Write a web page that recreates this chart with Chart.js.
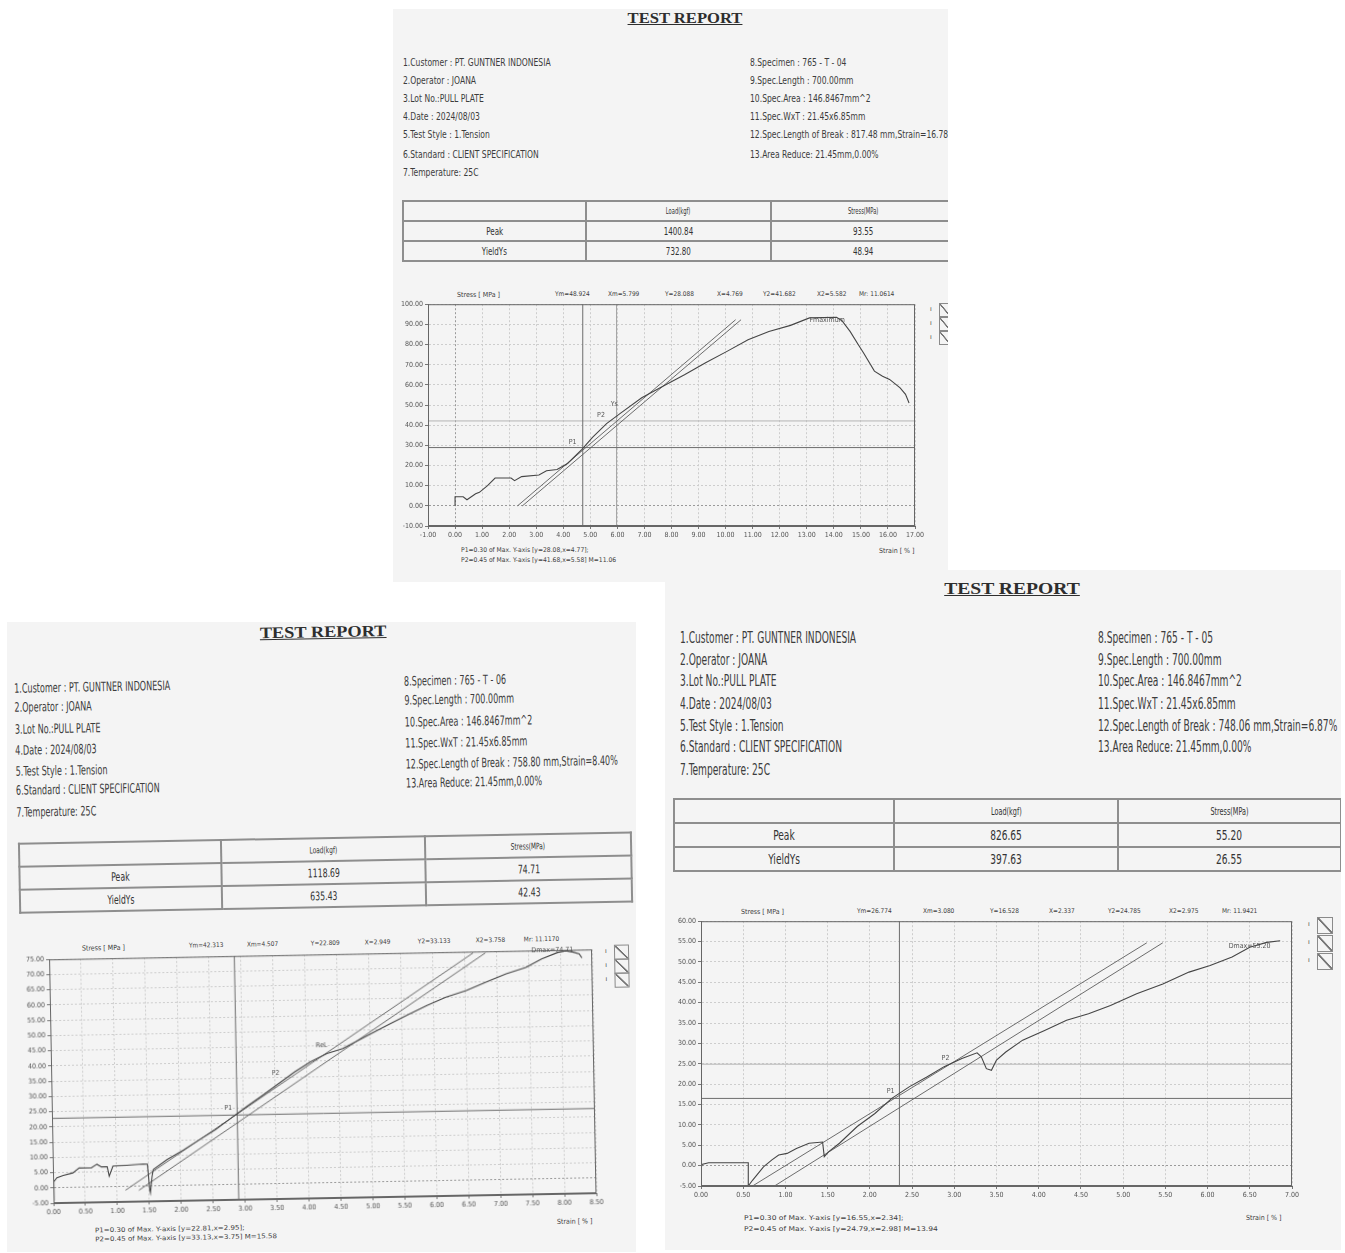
<!DOCTYPE html>
<html>
<head>
<meta charset="utf-8">
<title>Test Report</title>
<script src="https://cdn.jsdelivr.net/npm/chart.js@4.4.1/dist/chart.umd.min.js"></script>
<style>
  html,body{margin:0;padding:0;background:#fff}
  body{position:relative;width:1345px;height:1253px;overflow:hidden;
       font-family:'Liberation Sans Narrow','DejaVu Sans Condensed','Liberation Sans',sans-serif;color:#3c3c3c}
  .paper{position:absolute;background:#f4f4f4;overflow:hidden}
  .sheet{position:absolute}
  .t{position:absolute;white-space:nowrap;line-height:1;transform-origin:0 50%}
  .title{font-family:'Liberation Serif','DejaVu Serif',serif;font-weight:bold;text-decoration:underline;color:#2e2e2e;transform-origin:50% 50%}
  table.res{position:absolute;border-collapse:collapse;table-layout:fixed;border:2px solid #8e8e8e}
  table.res td{border:2px solid #8e8e8e;text-align:center;padding:0;color:#333;overflow:hidden;white-space:nowrap}
  table.res td span{display:inline-block;transform:scaleX(.72)}
  .box{position:absolute;border:1px solid #8a8a8a;background:linear-gradient(to top right,transparent 44%,#777 47%,#777 53%,transparent 56%)}
  canvas{position:absolute}
</style>
</head>
<body>
<div id="p1" class="paper"></div>
<div id="p2" class="paper"></div>
<div id="p3" class="paper"></div>
<script>
// ---------- report texts ----------
var infoLeft = ['1.Customer : PT. GUNTNER INDONESIA', '2.Operator : JOANA', '3.Lot No.:PULL PLATE',
  '4.Date : 2024/08/03', '5.Test Style : 1.Tension', '6.Standard : CLIENT SPECIFICATION', '7.Temperature: 25C'];
var specimens = ['765 - T - 04', '765 - T - 06', '765 - T - 05'];
var breakInfo = ['817.48 mm,Strain=16.78%', '758.80 mm,Strain=8.40%', '748.06 mm,Strain=6.87%'];
var tableHead = ['', 'Load(kgf)', 'Stress(MPa)'];
var rowNames = ['Peak', 'YieldYs'];
var peakLoad = ['1400.84', '1118.69', '826.65'];
var peakStress = ['93.55', '74.71', '55.20'];
var yieldLoad = ['732.80', '635.43', '397.63'];
var yieldStress = ['48.94', '42.43', '26.55'];
var headVals = [
  ['Ym=48.924', 'Xm=5.799', 'Y=28.088', 'X=4.769', 'Y2=41.682', 'X2=5.582', 'Mr: 11.0614'],
  ['Ym=42.313', 'Xm=4.507', 'Y=22.809', 'X=2.949', 'Y2=33.133', 'X2=3.758', 'Mr: 11.1170'],
  ['Ym=26.774', 'Xm=3.080', 'Y=16.528', 'X=2.337', 'Y2=24.785', 'X2=2.975', 'Mr: 11.9421']];
var footP1 = ['P1=0.30 of Max. Y-axis [y=28.08,x=4.77];', 'P1=0.30 of Max. Y-axis [y=22.81,x=2.95];',
  'P1=0.30 of Max. Y-axis [y=16.55,x=2.34];'];
var footP2 = ['P2=0.45 of Max. Y-axis [y=41.68,x=5.58] M=11.06', 'P2=0.45 of Max. Y-axis [y=33.13,x=3.75] M=15.58',
  'P2=0.45 of Max. Y-axis [y=24.79,x=2.98] M=13.94'];

// ---------- curves: strain [%] / stress [MPa] ----------
var c1Strain = [0, 0, 0.3, 0.44, 0.76, 0.9, 1.2, 1.48, 2.07, 2.2, 2.46, 3.1, 3.38, 3.77, 4.16, 4.69, 5.08, 5.6, 6.12,
  6.9, 7.7, 8.48, 9.26, 10.05, 10.83, 11.6, 12.4, 13.1, 14.1, 14.3, 14.6, 14.9, 15.1, 15.5, 15.8, 16.06, 16.45, 16.65, 16.78];
var c1Stress = [0, 4.5, 4.5, 3, 6, 6.7, 10, 13.8, 13.8, 12.5, 14.5, 15.3, 17.4, 18, 21, 28, 34, 40.8, 46,
  53.6, 59.4, 65, 71, 76.6, 82.4, 86.5, 89.5, 93.2, 93.5, 91.8, 86.5, 80, 75.8, 66.8, 64.3, 62.7, 58.5, 55.3, 51];
var c2Strain = [0, 0.01, 0.06, 0.16, 0.31, 0.41, 0.6, 0.69, 0.76, 0.85, 0.88, 0.94, 1.16, 1.41, 1.48, 1.51, 1.52, 1.55,
  1.57, 1.79, 2.05, 2.3, 2.55, 2.8, 3.05, 3.31, 3.56, 3.81, 4.06, 4.32, 4.57, 4.82, 5.07, 5.33, 5.58, 5.9, 6.2, 6.52,
  6.83, 7.15, 7.46, 7.71, 7.96, 8.09, 8.21, 8.3, 8.34];
var c2Stress = [-4, 2, 3.3, 4, 4.8, 6.4, 6.3, 7.5, 6.6, 6.6, 3.5, 6.8, 7, 7.3, 7.2, -1.1, -2.2, 3.2,
  5.4, 8.6, 11.7, 14.9, 18, 21.8, 25.5, 29.2, 32.9, 36.6, 39.8, 42.4, 44, 46.6, 49.2, 51.9, 54.5, 57.6, 60.2, 62.3,
  64.9, 67.5, 69.5, 72.2, 74.2, 74.7, 74.2, 73.6, 72.3];
var c3Strain = [0, 0.01, 0.09, 0.56, 0.56, 0.61, 0.74, 0.84, 0.92, 1.02, 1.13, 1.28, 1.44, 1.46, 1.51, 1.64, 1.85,
  2.06, 2.26, 2.47, 2.68, 2.88, 3.09, 3.27, 3.32, 3.38, 3.44, 3.5, 3.61, 3.81, 4.07, 4.33, 4.59, 4.85, 5.16, 5.47,
  5.78, 6.03, 6.29, 6.5, 6.7, 6.86];
var c3Stress = [0, 0.3, 0.7, 0.7, -5, -3.6, -0.3, 1.4, 2.6, 3, 4.2, 5.5, 5.8, 2.2, 3.4, 5.5, 9.6,
  12.8, 16.5, 19.4, 21.8, 24.3, 26.3, 27.7, 26.7, 23.8, 23.4, 25.9, 27.9, 30.8, 33.2, 35.7, 37.3, 39.3, 42.2, 44.6,
  47.5, 49.1, 51.2, 53.6, 54.8, 55.2];

// modulus lines, two per chart (start/end)
var c1LineX = [[2.31, 10.37], [2.49, 10.57]], c1LineY = [[0, 92.3], [0, 92.3]];
var c2LineX = [[1.13, 6.64], [1.34, 6.83]], c2LineY = [[-1.2, 74.6], [-1.3, 74.5]];
var c3LineX = [[0.61, 5.28], [0.87, 5.47]], c3LineY = [[-5, 54.7], [-5, 54.7]];

// axes [min, max, step]
var c1XAxis = [-1, 17, 1], c1YAxis = [-10, 100, 10];
var c2XAxis = [0, 8.5, 0.5], c2YAxis = [-5, 75, 5];
var c3XAxis = [0, 7, 0.5], c3YAxis = [-5, 60, 5];

// cursor lines [x, y]
var c1P1 = [4.72, 28.9], c1P2 = [5.97, 42.1];
var c2P1 = [2.9, 22.8], c2P2 = null;
var c3P1 = [2.35, 16.5], c3P2 = [null, 24.9];

// notes written inside the plots
var c1Notes = [['P1', 4.2, 30], ['P2', 5.25, 43], ['Ys', 5.75, 48.5], ['Fmaximum', 13.1, 90.5]];
var c2Notes = [['P1', 2.7, 24], ['P2', 3.45, 35], ['ReL', 4.15, 44], ['Dmax=74.71', 7.55, 74]];
var c3Notes = [['P1', 2.2, 17.5], ['P2', 2.85, 25.5], ['Dmax=55.20', 6.25, 53]];

var charts = [
  {sx: c1Strain, sy: c1Stress, lx: c1LineX, ly: c1LineY, xa: c1XAxis, ya: c1YAxis, p1: c1P1, p2: c1P2, notes: c1Notes},
  {sx: c2Strain, sy: c2Stress, lx: c2LineX, ly: c2LineY, xa: c2XAxis, ya: c2YAxis, p1: c2P1, p2: c2P2, notes: c2Notes},
  {sx: c3Strain, sy: c3Stress, lx: c3LineX, ly: c3LineY, xa: c3XAxis, ya: c3YAxis, p1: c3P1, p2: c3P2, notes: c3Notes}
];

// ---------- page layout (sheet relative) ----------
var layout = [
  {id: 'p1', box: [393, 9, 555, 573], off: [0, -1], rot: 0, titleX: 292, titleY: 11, titleW: 115, titleSize: 14,
   infoSize: 11, infoW: 148, lx: 10, rx: 357, ly: [54, 72, 90, 108, 126, 146, 164],
   tbl: [9, 192, [183, 185, 185], 22, 8, 11],
   cv: [0, 290, 536, 244], yW: 35, xH: 16, padR: 14, padT: 5,
   headY: 286, headX: [64, 162, 215, 272, 324, 370, 424, 466],
   footX: 68, footY: [542, 552], footW: 128, strainX: 486, strainY: 543,
   legX: 546, legY: [295, 309, 323], legS: [10, 12]},
  {id: 'p2', box: [7, 622, 629, 630], off: [-2, -2], rot: -1.05, titleX: 325, titleY: 18, titleW: 127, titleSize: 16,
   infoSize: 13, infoW: 156, lx: 15, rx: 405, ly: [68, 87, 109, 130, 151, 170, 192],
   tbl: [16, 223, [202, 204, 206], 25, 9, 12],
   cv: [9, 334, 591, 266], yW: 36, xH: 16, padR: 12, padT: 5,
   headY: 329, headX: [78, 185, 243, 307, 361, 414, 472, 520],
   footX: 86, footY: [612, 621], footW: 150, strainX: 548, strainY: 612,
   legX: 610, legY: [336, 350, 364], legS: [13, 13]},
  {id: 'p3', box: [665, 570, 676, 680], off: [0, 0], rot: 0, titleX: 347, titleY: 18, titleW: 136, titleSize: 17,
   infoSize: 15, infoW: 176, lx: 15, rx: 433, ly: [68, 90, 111, 134, 156, 177, 200],
   tbl: [8, 228, [220, 224, 223], 26, 10, 14],
   cv: [2, 345, 639, 287], yW: 34, xH: 16, padR: 14, padT: 5,
   headY: 341, headX: [76, 192, 258, 325, 384, 443, 504, 557],
   footX: 79, footY: [648, 659], footW: 160, strainX: 581, strainY: 648,
   legX: 652, legY: [347, 365, 383], legS: [14, 15]}
];

var FONT = "'Liberation Sans Narrow','DejaVu Sans Condensed',sans-serif";

function addText(parent, txt, x, y, size) {
  var d = document.createElement('div');
  d.className = 't';
  d.textContent = txt;
  d.style.left = x + 'px';
  d.style.top = (y - size / 2) + 'px';
  d.style.fontSize = size + 'px';
  parent.appendChild(d);
  return d;
}
function squeeze(list, w) {
  var f = w / list[0].offsetWidth;
  list.forEach(function (d) { d.style.transform = 'scaleX(' + f + ')'; });
}

function pts(xs, ys) { return xs.map(function (x, i) { return {x: x, y: ys[i]}; }); }

var framePlugin = {
  id: 'frame',
  afterDatasetsDraw: function (chart) {
    var a = chart.chartArea, c = chart.ctx, notes = chart.options.plugins.frame.notes;
    c.save();
    c.strokeStyle = '#666';
    c.lineWidth = 1;
    c.strokeRect(a.left + 0.5, a.top + 0.5, a.right - a.left - 1, a.bottom - a.top - 1);
    c.fillStyle = '#555';
    c.font = '7px ' + FONT;
    c.textBaseline = 'bottom';
    notes.forEach(function (n) {
      c.fillText(n[0], chart.scales.x.getPixelForValue(n[1]), chart.scales.y.getPixelForValue(n[2]));
    });
    c.restore();
  }
};

function makeChart(sheet, L, d) {
  var cv = document.createElement('canvas');
  cv.width = L.cv[2]; cv.height = L.cv[3];
  cv.style.left = L.cv[0] + 'px'; cv.style.top = L.cv[1] + 'px';
  cv.style.width = L.cv[2] + 'px'; cv.style.height = L.cv[3] + 'px';
  sheet.appendChild(cv);

  var ds = [{data: pts(d.sx, d.sy), borderColor: '#454545', borderWidth: 1.1}];
  d.lx.forEach(function (lx, i) { ds.push({data: pts(lx, d.ly[i]), borderColor: '#5c5c5c', borderWidth: 0.9}); });
  ds.push({data: pts([d.xa[0], d.xa[1]], [d.p1[1], d.p1[1]]), borderColor: '#6c6c6c', borderWidth: 1});
  ds.push({data: pts([d.p1[0], d.p1[0]], [d.ya[0], d.ya[1]]), borderColor: '#6c6c6c', borderWidth: 1});
  if (d.p2) {
    if (d.p2[1] != null) ds.push({data: pts([d.xa[0], d.xa[1]], [d.p2[1], d.p2[1]]), borderColor: '#b4b4b4', borderWidth: 1});
    if (d.p2[0] != null) ds.push({data: pts([d.p2[0], d.p2[0]], [d.ya[0], d.ya[1]]), borderColor: '#a0a0a0', borderWidth: 1});
  }
  ds.forEach(function (s) { s.showLine = true; s.pointRadius = 0; s.fill = false; s.tension = 0; });

  function axis(r, isX) {
    return {
      type: 'linear', min: r[0], max: r[1],
      ticks: {stepSize: r[2], autoSkip: false, maxRotation: 0, padding: 2, color: '#555',
              font: {size: 7, family: FONT}, callback: function (v) { return Number(v).toFixed(2); }},
      grid: {color: function (ctx) { return ctx.tick && ctx.tick.value === 0 ? '#9a9a9a' : '#cdcdcd'; },
             tickLength: 3, tickColor: '#777'},
      border: {color: '#666', dash: [2, 2]},
      afterFit: function (s) { if (isX) s.height = L.xH; else s.width = L.yW; }
    };
  }

  new Chart(cv, {
    type: 'scatter',
    data: {datasets: ds},
    options: {
      responsive: false, animation: false, events: [],
      layout: {padding: {top: L.padT, right: L.padR, left: 0, bottom: 0}},
      plugins: {legend: {display: false}, tooltip: {enabled: false}, frame: {notes: d.notes}},
      scales: {x: axis(d.xa, true), y: axis(d.ya, false)}
    },
    plugins: [framePlugin]
  });
}

layout.forEach(function (L, i) {
  var paper = document.getElementById(L.id);
  paper.style.left = L.box[0] + 'px'; paper.style.top = L.box[1] + 'px';
  paper.style.width = L.box[2] + 'px'; paper.style.height = L.box[3] + 'px';

  // the sheet holds the printed content; the scan of sheet 2 is slightly tilted
  var p = document.createElement('div');
  p.className = 'sheet';
  p.style.left = L.off[0] + 'px'; p.style.top = L.off[1] + 'px';
  p.style.width = (L.box[2] + 20) + 'px'; p.style.height = (L.box[3] + 20) + 'px';
  if (L.rot) { p.style.transformOrigin = '0 60%'; p.style.transform = 'rotate(' + L.rot + 'deg)'; }
  paper.appendChild(p);

  // title
  var t = addText(p, 'TEST REPORT', L.titleX, L.titleY, L.titleSize);
  t.classList.add('title');
  var tf = L.titleW / t.offsetWidth;
  t.style.transform = 'translateX(-50%) scaleX(' + tf + ')';

  // info block
  var right = ['8.Specimen : ' + specimens[i], '9.Spec.Length : 700.00mm', '10.Spec.Area : 146.8467mm^2',
    '11.Spec.WxT : 21.45x6.85mm', '12.Spec.Length of Break : ' + breakInfo[i], '13.Area Reduce: 21.45mm,0.00%'];
  var lines = [];
  infoLeft.forEach(function (s, k) { lines.push(addText(p, s, L.lx, L.ly[k], L.infoSize)); });
  right.forEach(function (s, k) { lines.push(addText(p, s, L.rx, L.ly[k], L.infoSize)); });
  squeeze(lines, L.infoW);

  // result table
  var tb = document.createElement('table');
  tb.className = 'res';
  tb.style.left = L.tbl[0] + 'px'; tb.style.top = L.tbl[1] + 'px';
  var cg = '<colgroup>' + L.tbl[2].map(function (w) { return '<col style="width:' + w + 'px">'; }).join('') + '</colgroup>';
  var rows = [tableHead, [rowNames[0], peakLoad[i], peakStress[i]], [rowNames[1], yieldLoad[i], yieldStress[i]]];
  tb.innerHTML = cg + rows.map(function (r, k) {
    var fs = k === 0 ? L.tbl[4] : L.tbl[5];
    return '<tr>' + r.map(function (c) {
      return '<td style="height:' + (L.tbl[3] - 4) + 'px;font-size:' + fs + 'px"><span>' + c + '</span></td>';
    }).join('') + '</tr>';
  }).join('');
  tb.style.width = L.tbl[2].reduce(function (a, b) { return a + b; }, 0) + 'px';
  p.appendChild(tb);

  // chart header / footer texts
  addText(p, 'Stress [ MPa ]', L.headX[0], L.headY + 1, 7);
  headVals[i].forEach(function (s, k) { addText(p, s, L.headX[k + 1], L.headY, 6.5); });
  var f1 = addText(p, footP1[i], L.footX, L.footY[0], 6.5);
  var f2 = addText(p, footP2[i], L.footX, L.footY[1], 6.5);
  squeeze([f1, f2], L.footW);
  addText(p, 'Strain [ % ]', L.strainX, L.strainY, 7);

  // legend check boxes
  L.legY.forEach(function (y) {
    var b = document.createElement('div');
    b.className = 'box';
    b.style.left = L.legX + 'px'; b.style.top = y + 'px';
    b.style.width = L.legS[0] + 'px'; b.style.height = L.legS[1] + 'px';
    p.appendChild(b);
    addText(p, 'ı', L.legX - 9, y + L.legS[1] / 2, 7);
  });

  makeChart(p, L, charts[i]);
});
</script>
</body>
</html>
